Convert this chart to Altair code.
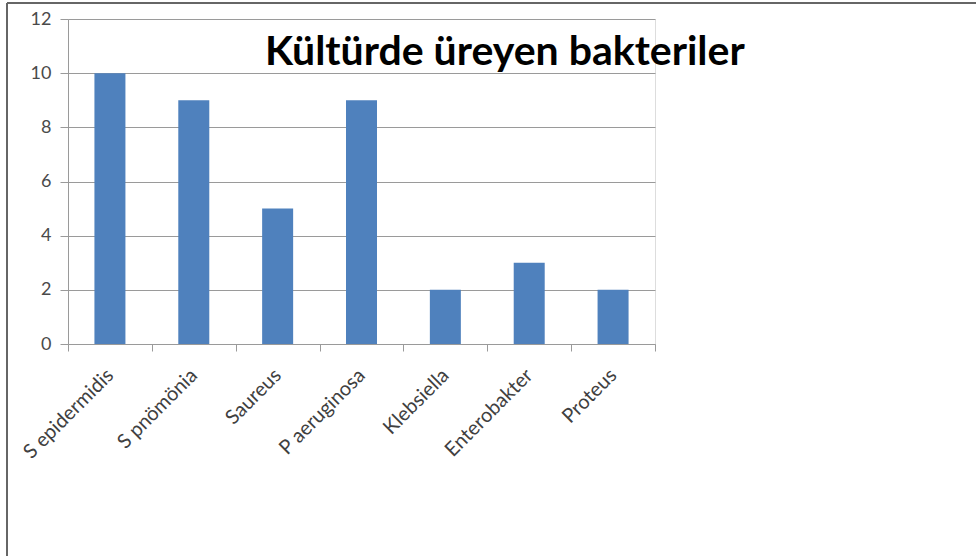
import altair as alt
import pandas as pd

categories = ["S epidermidis", "S pnömönia", "Saureus", "P aeruginosa",
              "Klebsiella", "Enterobakter", "Proteus"]
counts = [10, 9, 5, 9, 2, 3, 2]
y_ticks = [0, 2, 4, 6, 8, 10, 12]
title_text = "Kültürde üreyen bakteriler"

df = pd.DataFrame({"bakteri": categories, "sayi": counts})
title_df = pd.DataFrame({"t": [title_text]})

FONT = "Lato"
W, H = 587, 325
LEFT, TOP = 68, 19
RIGHT, BOTTOM = 976 - LEFT - W, 556 - TOP - H

bars = alt.Chart(df).mark_bar(color="#4f81bd", size=31).encode(
    x=alt.X("bakteri:N", sort=categories, title=None,
            scale=alt.Scale(paddingInner=0, paddingOuter=0),
            axis=alt.Axis(labelAngle=-45, labelAlign="right", labelBaseline="middle",
                          labelFontSize=20, labelFont=FONT, labelColor="#404040",
                          labelPadding=21, tickBand="extent", tickSize=7,
                          tickColor="#9a9a9a", domainColor="#9a9a9a",
                          grid=False)),
    y=alt.Y("sayi:Q", title=None,
            scale=alt.Scale(domain=[0, 12], nice=False),
            axis=alt.Axis(values=y_ticks, labelFontSize=18, labelFont=FONT,
                          labelColor="#4a4a4a", labelPadding=9, tickSize=8,
                          tickColor="#9a9a9a", domainColor="#9a9a9a",
                          gridColor="#9a9a9a", gridOpacity=1, grid=True)),
)

title = alt.Chart(title_df).mark_text(
    align="left", baseline="alphabetic", font=FONT, fontSize=41,
    fontWeight="bold", color="#000000").encode(
    text="t:N", x=alt.value(265 - LEFT), y=alt.value(65 - TOP))

border_left = alt.Chart(title_df).mark_rule(color="#666666", strokeWidth=2).encode(
    x=alt.value(7 - LEFT), y=alt.value(3 - TOP), y2=alt.value(556 - TOP))
border_top = alt.Chart(title_df).mark_rule(color="#666666", strokeWidth=2).encode(
    x=alt.value(7 - LEFT), x2=alt.value(976 - LEFT), y=alt.value(3 - TOP))

chart = alt.layer(bars, title, border_left, border_top).properties(
    width=W, height=H,
    autosize=alt.AutoSizeParams(type="none"),
    padding={"left": LEFT, "top": TOP, "right": RIGHT, "bottom": BOTTOM},
).configure_view(stroke=None).configure(background="white")

chart.save("out.html", embed_options={"renderer": "svg", "actions": False})
